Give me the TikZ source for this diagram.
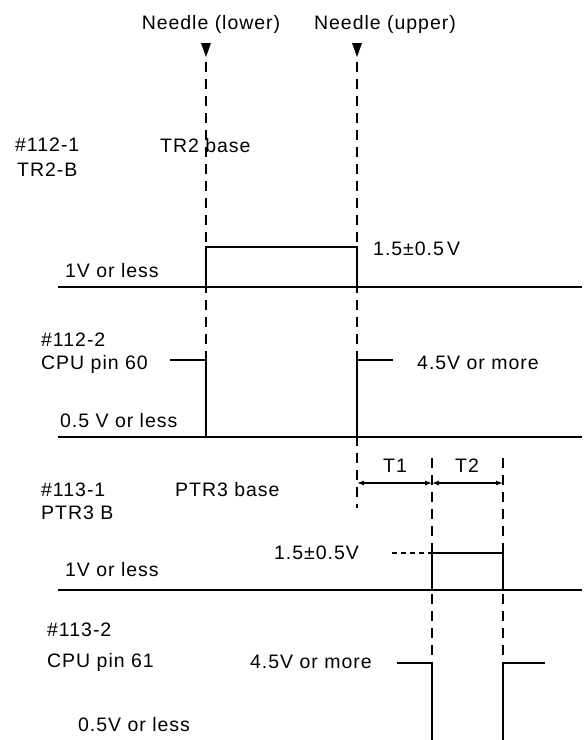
\documentclass[tikz,border=0pt]{standalone}
\usepackage{fontspec}
\setmainfont[LetterSpace=5]{Liberation Sans}
\usetikzlibrary{arrows.meta}
\begin{document}
\begin{tikzpicture}[x=1pt,y=-1pt,
        font=\fontsize{19.5}{23}\selectfont,
        lbl/.style={inner sep=0pt,anchor=base west},
        sig/.style={line width=1.7pt},
        base/.style={line width=2.5pt},
        guide/.style={line width=1.3pt,dash pattern=on 10pt off 7pt},
        span/.style={line width=1.1pt,{Latex[length=7pt,width=5pt]}-{Latex[length=7pt,width=5pt]}}]
        \useasboundingbox (0,0) rectangle (585,740);
        % needles
        \node[inner sep=0pt,anchor=base] (nlow) at (211,29) {Needle (lower)};
        \node[inner sep=0pt,anchor=base] (nup) at (385,29) {Needle (upper)};
        \foreach \x in {206,357} {
            \fill (\x-5,43) -- (\x+5,43) -- (\x,57) -- cycle;
        }
        \draw[guide] (206,62) -- (206,360);
        \draw[guide] (357,62) -- (357,508);
        \draw[guide] (432,458) -- (432,663);
        \draw[guide] (503,458) -- (503,663);
        % #112-1
        \node[lbl] (s1a) at (15,151) {\#112-1};
        \node[lbl] (s1b) at (17,176) {TR2-B};
        \node[lbl] (s1c) at (160,152) {TR2 base};
        \node[lbl] (s1hi) at (373,255) {1.5±0.5\,V};
        \node[lbl] (s1lo) at (65,277) {1V or less};
        \draw[base] (58,287) -- (582,287);
        \draw[sig] (206,287) -- (206,247) -- (357,247) -- (357,287);
        % #112-2
        \node[lbl] (s2a) at (41,346) {\#112-2};
        \node[lbl] (s2b) at (41,369) {CPU pin 60};
        \node[lbl] (s2hi) at (417,369) {4.5V or more};
        \node[lbl] (s2lo) at (60,427) {0.5 V or less};
        \draw[base] (58,437) -- (582,437);
        \draw[sig] (170,360) -- (206,360) -- (206,437);
        \draw[sig] (357,437) -- (357,360) -- (393,360);
        % T1, T2
        \coordinate (ta) at (357,483);
        \coordinate (tb) at (432,483);
        \coordinate (tc) at (503,483);
        \draw[span] (ta) -- (tb);
        \draw[span] (tb) -- (tc);
        \node[inner sep=0pt,anchor=base] (t1) at (395,472) {T1};
        \node[inner sep=0pt,anchor=base] (t2) at (467,472) {T2};
        % #113-1
        \node[lbl] (s3a) at (41,496) {\#113-1};
        \node[lbl] (s3b) at (41,519) {PTR3 B};
        \node[lbl] (s3c) at (175,496) {PTR3 base};
        \node[lbl] (s3hi) at (274,559) {1.5±0.5V};
        \node[lbl] (s3lo) at (65,576) {1V or less};
        \draw[line width=1.1pt,dash pattern=on 5pt off 4pt] (392,553) -- (432,553);
        \draw[base] (58,590) -- (582,590);
        \draw[sig] (432,590) -- (432,553) -- (503,553) -- (503,590);
        % #113-2
        \node[lbl] (s4a) at (47,636) {\#113-2};
        \node[lbl] (s4b) at (47,667) {CPU pin 61};
        \node[lbl] (s4hi) at (250,668) {4.5V or more};
        \node[lbl] (s4lo) at (78,731) {0.5V or less};
        \draw[sig] (397,663) -- (432,663) -- (432,740);
        \draw[sig] (503,740) -- (503,663) -- (545,663);
    \end{tikzpicture}
\end{document}
